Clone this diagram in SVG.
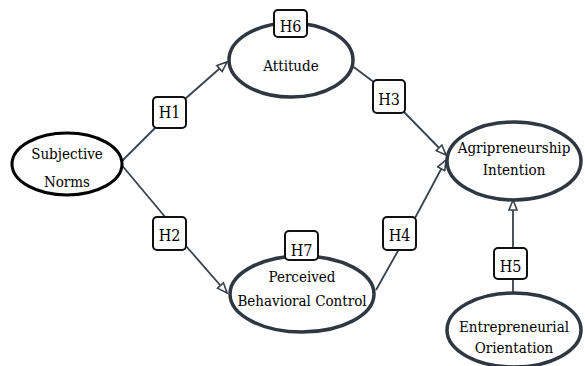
<svg xmlns="http://www.w3.org/2000/svg" width="585" height="366" viewBox="0 0 585 366">
<style>
text{font-family:"DejaVu Serif Condensed","DejaVu Serif","Liberation Serif",serif;font-stretch:condensed;font-size:15px;fill:#000;text-anchor:middle}
.hb{font-size:16px}
.node{fill:#fff;stroke:#2f3742;stroke-width:3.5}
.sn{fill:#fff;stroke:#000;stroke-width:3}
.box{fill:#fff;stroke:#111;stroke-width:2}
.ln{stroke:#39414c;stroke-width:1.8;fill:none}
.arr{marker-end:url(#ah)}
</style>
<defs>
<marker id="ah" viewBox="0 0 12 10" refX="11" refY="5" markerWidth="12" markerHeight="10" markerUnits="userSpaceOnUse" orient="auto">
<path d="M1,1 L11,5 L1,9 Z" fill="#fff" stroke="#39414c" stroke-width="1.6"/>
</marker>
</defs>
<g id="connectors">
<line class="ln" x1="120" y1="163" x2="156" y2="127"/>
<line class="ln arr" x1="185" y1="99" x2="227" y2="62"/>
<line class="ln" x1="120" y1="163" x2="166" y2="218"/>
<line class="ln arr" x1="186" y1="246" x2="227" y2="293"/>
<line class="ln" x1="351" y1="65" x2="375" y2="83"/>
<line class="ln arr" x1="404" y1="112" x2="446" y2="155"/>
<line class="ln" x1="376" y1="290" x2="399" y2="249"/>
<line class="ln arr" x1="415" y1="218" x2="446" y2="160"/>
<line class="ln" x1="513" y1="293" x2="513" y2="279"/>
<line class="ln arr" x1="513" y1="248" x2="513" y2="200"/>
</g>
<g id="subjective-norms">
<ellipse class="sn" cx="67" cy="164" rx="55" ry="31"/>
<text x="67" y="159">Subjective</text>
<text x="67" y="187">Norms</text>
</g>
<g id="attitude">
<ellipse class="node" cx="291" cy="60" rx="62" ry="37"/>
<text x="291" y="71">Attitude</text>
</g>
<g id="pbc">
<ellipse class="node" cx="302" cy="294" rx="72" ry="38"/>
<text x="302" y="282">Perceived</text>
<text x="302" y="306">Behavioral Control</text>
</g>
<g id="agripreneurship-intention">
<ellipse class="node" cx="514" cy="161" rx="67" ry="39"/>
<text x="514" y="153">Agripreneurship</text>
<text x="514" y="175">Intention</text>
</g>
<g id="entrepreneurial-orientation">
<ellipse class="node" cx="514" cy="330" rx="67" ry="37"/>
<text x="514" y="332">Entrepreneurial</text>
<text x="514" y="353">Orientation</text>
</g>
<g id="h1"><rect class="box" x="153" y="97" width="33" height="31" rx="4"/><text class="hb" x="169.5" y="118">H1</text></g>
<g id="h2"><rect class="box" x="153" y="217" width="33" height="33" rx="4"/><text class="hb" x="169.5" y="241">H2</text></g>
<g id="h3"><rect class="box" x="373" y="80" width="32" height="33" rx="4"/><text class="hb" x="389" y="105">H3</text></g>
<g id="h4"><rect class="box" x="383" y="217" width="33" height="33" rx="4"/><text class="hb" x="399.5" y="241">H4</text></g>
<g id="h5"><rect class="box" x="494" y="248" width="33" height="31" rx="4"/><text class="hb" x="510.5" y="272">H5</text></g>
<g id="h6"><rect class="box" x="274" y="10" width="33" height="27" rx="4"/><text class="hb" x="290.5" y="32">H6</text></g>
<g id="h7"><rect class="box" x="285" y="231" width="33" height="29" rx="4"/><text class="hb" x="301.5" y="256">H7</text></g>
</svg>
